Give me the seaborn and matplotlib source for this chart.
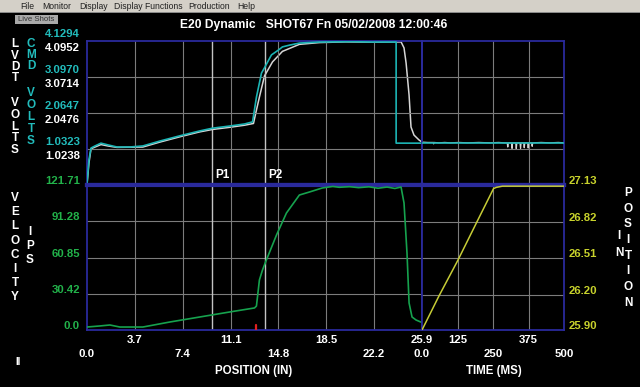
import matplotlib
matplotlib.use('Agg')
import matplotlib.pyplot as plt
import matplotlib.transforms as mtransforms
from matplotlib.patches import Rectangle
import seaborn as sns

# ---------------- data ----------------
pos_ticks = [0.0, 3.7, 7.4, 11.1, 14.8, 18.5, 22.2, 25.9]
pos_labels = ['0.0', '3.7', '7.4', '11.1', '14.8', '18.5', '22.2', '25.9']
time_ticks = [0, 125, 250, 375, 500]
time_labels = ['0.0', '125', '250', '375', '500']
cmd_ticks = [1.0323, 2.0647, 3.0970, 4.1294]
lvdt_ticks = [1.0238, 2.0476, 3.0714, 4.0952]
vel_ticks = [0.0, 30.42, 60.85, 91.28, 121.71]
vel_labels = ['0.0', '30.42', '60.85', '91.28', '121.71']
ipos_ticks = [25.90, 26.20, 26.51, 26.82, 27.13]

p1_pos = 9.7
p2_pos = 13.8
red_mark_pos = 13.1

# CMD volts vs position (in)
cmd_pos = [0, 0.15, 0.31, 0.62, 1.08, 1.62, 2.31, 3.31, 4.32, 5.63, 7.17, 8.71, 9.71,
           11.02, 12.18, 12.80, 13.10, 13.49, 13.72, 14.26, 14.80, 15.11, 15.65, 16.42,
           17.96, 20.5, 22.0, 23.90, 23.90, 25.90]
cmd_v = [0.06, 0.72, 1.06, 1.12, 1.20, 1.15, 1.09, 1.09, 1.12, 1.26, 1.41, 1.55, 1.63,
         1.69, 1.75, 1.81, 2.52, 3.21, 3.36, 3.73, 3.87, 3.96, 4.01, 4.07,
         4.10, 4.11, 4.10, 4.10, 1.20, 1.20]
# CMD volts vs time (ms)
cmd_t = [0, 500]
cmd_tv = [1.20, 1.20]

# LVDT volts vs position (in)
lvdt_pos = [0, 0.15, 0.31, 0.62, 1.08, 1.62, 2.31, 4.32, 5.63, 7.17, 8.71, 9.71, 11.02,
            12.18, 12.87, 13.10, 13.33, 13.72, 14.34, 15.11, 16.42, 17.96, 20.0, 22.5,
            24.28, 24.51, 24.67, 24.90, 25.05, 25.28, 25.67, 25.90]
lvdt_v = [0.0, 0.62, 1.03, 1.08, 1.15, 1.11, 1.07, 1.08, 1.22, 1.37, 1.51, 1.58, 1.64,
          1.70, 1.75, 2.13, 2.50, 3.10, 3.50, 3.80, 4.00, 4.05, 4.07, 4.06,
          4.07, 3.90, 3.47, 2.56, 1.65, 1.42, 1.28, 1.22]
# LVDT volts vs time (ms)
lvdt_t = [0, 20, 40, 41, 42, 60, 80, 100, 130, 160, 200, 240, 270, 290,
          300, 302, 304, 315, 317, 319, 330, 332, 334, 345, 347, 349,
          358, 360, 362, 372, 374, 376, 386, 388, 390, 420, 450, 480, 500]
lvdt_tv = [1.22, 1.21, 1.21, 1.17, 1.21, 1.20, 1.21, 1.20, 1.21, 1.20, 1.21, 1.20, 1.21, 1.20,
           1.20, 1.08, 1.20, 1.20, 1.04, 1.20, 1.20, 1.03, 1.20, 1.20, 1.04, 1.20,
           1.20, 1.06, 1.20, 1.20, 1.05, 1.20, 1.20, 1.10, 1.20, 1.21, 1.20, 1.21, 1.20]

# Velocity (ips) vs position (in)
vel_pos = [0, 1.00, 1.77, 2.54, 4.32, 6.40, 8.71, 11.02, 12.95, 13.10, 13.33, 13.57,
           13.87, 14.65, 15.42, 16.42, 17.19, 18.19, 19.0, 19.5, 20.3, 21.0, 21.8,
           22.5, 23.2, 23.8, 24.28, 24.51, 24.74, 24.90, 25.13, 25.44, 25.80]
vel_v = [2.5, 3.4, 4.2, 2.5, 2.5, 6.7, 10.9, 15.1, 18.5, 20.1, 42.0, 50.4,
         58.8, 79.7, 98.2, 113.3, 115.8, 119.2, 120.5, 119.8, 120.3, 119.5, 120.2,
         119.0, 120.0, 118.8, 120.0, 106.6, 64.6, 22.7, 10.9, 8.4, 6.7]

# Position (in) vs time (ms)
ipos_t = [0, 60, 126, 196, 252, 262, 283, 350, 420, 500]
ipos_v = [25.90, 26.19, 26.49, 26.83, 27.10, 27.11, 27.12, 27.12, 27.12, 27.12]

# ---------------- style ----------------
sns.set_theme(style='dark', rc={'axes.facecolor': 'black', 'figure.facecolor': 'black'})
plt.rcParams['font.family'] = ['Liberation Sans', 'DejaVu Sans']

W, H = 640, 387
fig = plt.figure(figsize=(W / 100, H / 100), dpi=100, facecolor='black')

NAVY = '#2a2a9c'
GRID = '#7c7c7c'
PLINE = '#c4c4c4'
C_CMD = '#1cb4b4'
C_LVDT = '#d6d6d6'
C_VEL = '#16a24e'
C_POS = '#c6cc36'
T_CMD = '#22bcbc'
T_VEL = '#22b24a'
T_POS = '#c8d22c'


def rect(x0, y0, x1, y1):
    return [x0 / W, 1 - y1 / H, (x1 - x0) / W, (y1 - y0) / H]


def ftext(x, y, s, **kw):
    fig.text(x / W, 1 - y / H, s, **kw)


# menu bar
fig.patches.append(Rectangle((0, 1 - 12 / H), 1, 12 / H, transform=fig.transFigure,
                             facecolor='#d4d0c8', edgecolor='none', zorder=0))
fig.patches.append(Rectangle((0, 1 - 13 / H), 1, 1 / H, transform=fig.transFigure,
                             facecolor='#8a8a8a', edgecolor='none', zorder=0))
for mx, name in [(20, 'File'), (42, 'Monitor'), (79, 'Display'), (114, 'Display Functions'),
                 (188, 'Production'), (237, 'Help')]:
    ftext(mx, 6.5, name, fontsize=6.2, color='#202020', va='center', ha='left')
fig.patches.append(Rectangle((15 / W, 1 - 24 / H), 43 / W, 9 / H, transform=fig.transFigure,
                             facecolor='#a9a9a9', edgecolor='none', zorder=0))
ftext(36.5, 19.5, 'Live Shots', fontsize=5.6, color='#333333', va='center', ha='center')

# title
ftext(314, 25, 'E20 Dynamic   SHOT67 Fn 05/02/2008 12:00:46', fontsize=8.7, color='white',
      weight='bold', ha='center', va='center')

# axes
ax_tl = fig.add_axes(rect(87, 41, 422, 185))
ax_tr = fig.add_axes(rect(422, 41, 564, 185))
ax_bl = fig.add_axes(rect(87, 185, 422, 330))
ax_br = fig.add_axes(rect(422, 185, 564, 330))
ax_tl2 = ax_tl.twinx()
ax_tr2 = ax_tr.twinx()

for ax in (ax_tl, ax_tr, ax_bl, ax_br, ax_tl2, ax_tr2):
    ax.set_facecolor('black')
    ax.tick_params(length=0, labelleft=False, labelbottom=False, labelright=False)
    ax.set_xlabel('')
    ax.set_ylabel('')

for ax in (ax_tl2, ax_tr2):
    for s in ax.spines.values():
        s.set_visible(False)
    ax.grid(False)
    ax.set_yticks([])

ax_tl.set_xlim(0, 25.9); ax_bl.set_xlim(0, 25.9)
ax_tr.set_xlim(0, 500); ax_br.set_xlim(0, 500)
ax_tl.set_ylim(0, cmd_ticks[-1]); ax_tr.set_ylim(0, cmd_ticks[-1])
ax_bl.set_ylim(0, vel_ticks[-1]); ax_br.set_ylim(ipos_ticks[0], ipos_ticks[-1])

ax_tl.set_xticks(pos_ticks[1:-1]); ax_bl.set_xticks(pos_ticks[1:-1])
ax_tr.set_xticks(time_ticks[1:-1]); ax_br.set_xticks(time_ticks[1:-1])
ax_tl.set_yticks(cmd_ticks[:-1]); ax_tr.set_yticks(cmd_ticks[:-1])
ax_bl.set_yticks(vel_ticks[1:-1]); ax_br.set_yticks(ipos_ticks[1:-1])

for ax in (ax_tl, ax_tr, ax_bl, ax_br):
    ax.grid(True, color=GRID, lw=0.8, zorder=0)
    ax.set_axisbelow(True)
    for s in ax.spines.values():
        s.set_visible(True)
        s.set_color(NAVY)
        s.set_linewidth(1.3)
ax_tl.spines['bottom'].set_linewidth(3)
ax_tr.spines['bottom'].set_linewidth(3)
ax_bl.spines['top'].set_linewidth(3)
ax_br.spines['top'].set_linewidth(3)

# P1 / P2 lines
for ax in (ax_tl, ax_bl):
    for p in (p1_pos, p2_pos):
        ax.axvline(p, color=PLINE, lw=1.0, zorder=1)
ax_bl.axvline(red_mark_pos, ymin=0, ymax=0.035, color='#e02020', lw=1.6, zorder=3)
for p, name in ((p1_pos, 'P1'), (p2_pos, 'P2')):
    tr = mtransforms.offset_copy(ax_tl.get_xaxis_transform(), fig=fig, x=3, y=0, units='dots')
    ax_tl.text(p, 0.07, name, transform=tr, color='white', fontsize=8.5, weight='bold',
               ha='left', va='center', zorder=5)

# lines
kw = dict(estimator=None, sort=False, legend=False)
sns.lineplot(x=lvdt_pos, y=lvdt_v, ax=ax_tl2, color=C_LVDT, lw=1.1, **kw)
sns.lineplot(x=cmd_pos, y=cmd_v, ax=ax_tl, color=C_CMD, lw=1.2, zorder=4, **kw)
sns.lineplot(x=cmd_t, y=cmd_tv, ax=ax_tr, color=C_CMD, lw=1.2, zorder=4, **kw)
sns.lineplot(x=lvdt_t, y=lvdt_tv, ax=ax_tr2, color=C_LVDT, lw=0.9, **kw)
sns.lineplot(x=vel_pos, y=vel_v, ax=ax_bl, color=C_VEL, lw=1.2, zorder=4, **kw)
sns.lineplot(x=ipos_t, y=ipos_v, ax=ax_br, color=C_POS, lw=1.1, zorder=4, **kw)
for ax in (ax_tl, ax_tr, ax_bl, ax_br, ax_tl2, ax_tr2):
    ax.set_xlabel(''); ax.set_ylabel('')
ax_tl2.set_ylim(0, lvdt_ticks[-1]); ax_tr2.set_ylim(0, lvdt_ticks[-1])
ax_tl2.set_zorder(ax_tl.get_zorder() - 0.5)
ax_tl.patch.set_visible(False)
ax_tr2.set_zorder(ax_tr.get_zorder() - 0.5)
ax_tr.patch.set_visible(False)
ax_tl2.patch.set_visible(True); ax_tl2.patch.set_facecolor('black')
ax_tr2.patch.set_visible(True); ax_tr2.patch.set_facecolor('black')

TFS = 8.2
# y tick labels (left, top panel)
for v in cmd_ticks:
    tr = mtransforms.offset_copy(ax_tl.get_yaxis_transform(), fig=fig, x=-7, y=7, units='dots')
    ax_tl.text(0, v, f'{v:.4f}', transform=tr, color=T_CMD, fontsize=TFS, weight='bold',
               ha='right', va='center', clip_on=False)
for v in lvdt_ticks:
    tr = mtransforms.offset_copy(ax_tl2.get_yaxis_transform(), fig=fig, x=-7, y=-7, units='dots')
    ax_tl2.text(0, v, f'{v:.4f}', transform=tr, color='white', fontsize=TFS, weight='bold',
                ha='right', va='center', clip_on=False)
# velocity labels
for v, lab in zip(vel_ticks, vel_labels):
    tr = mtransforms.offset_copy(ax_bl.get_yaxis_transform(), fig=fig, x=-7, y=4, units='dots')
    ax_bl.text(0, v, lab, transform=tr, color=T_VEL, fontsize=TFS, weight='bold',
               ha='right', va='center', clip_on=False)
# position labels (right)
for v in ipos_ticks:
    tr = mtransforms.offset_copy(ax_br.get_yaxis_transform(), fig=fig, x=5, y=4, units='dots')
    ax_br.text(1, v, f'{v:.2f}', transform=tr, color=T_POS, fontsize=TFS, weight='bold',
               ha='left', va='center', clip_on=False)

# x tick labels, staggered
for i, (v, lab) in enumerate(zip(pos_ticks, pos_labels)):
    yy = -10 if i % 2 else -24
    tr = mtransforms.offset_copy(ax_bl.get_xaxis_transform(), fig=fig, x=0, y=yy, units='dots')
    ax_bl.text(v, 0, lab, transform=tr, color='white', fontsize=TFS, weight='bold',
               ha='center', va='center', clip_on=False)
for i, (v, lab) in enumerate(zip(time_ticks, time_labels)):
    yy = -10 if i % 2 else -24
    tr = mtransforms.offset_copy(ax_br.get_xaxis_transform(), fig=fig, x=0, y=yy, units='dots')
    ax_br.text(v, 0, lab, transform=tr, color='white', fontsize=TFS, weight='bold',
               ha='center', va='center', clip_on=False)

ftext(254, 371, 'POSITION (IN)', color='white', fontsize=8.3, weight='bold', ha='center', va='center')
ftext(494, 371, 'TIME (MS)', color='white', fontsize=8.3, weight='bold', ha='center', va='center')

# vertical stacked labels
LFS = 8.5
def stack(x, ys, letters, color):
    for y, ch in zip(ys, letters):
        ftext(x, y, ch, color=color, fontsize=LFS, weight='bold', ha='center', va='center')

stack(15, [44, 56, 67, 78, 103, 115, 127, 138, 150], 'LVDTVOLTS', 'white')
stack(31, [44, 55, 66, 93, 105, 117, 129, 141], 'CMDVOLTS', T_CMD)
stack(15, [198 + 14.2 * i for i in range(8)], 'VELOCITY', 'white')
stack(30, [232, 246, 260], 'IPS', 'white')
stack(628, [193 + 15.7 * i for i in range(8)], 'POSITION', 'white')
stack(619, [236, 253], 'IN', 'white')
ftext(18, 362, 'II', color='white', fontsize=7, weight='bold', ha='center', va='center')

fig.savefig('out.png', dpi=100, facecolor='black')
